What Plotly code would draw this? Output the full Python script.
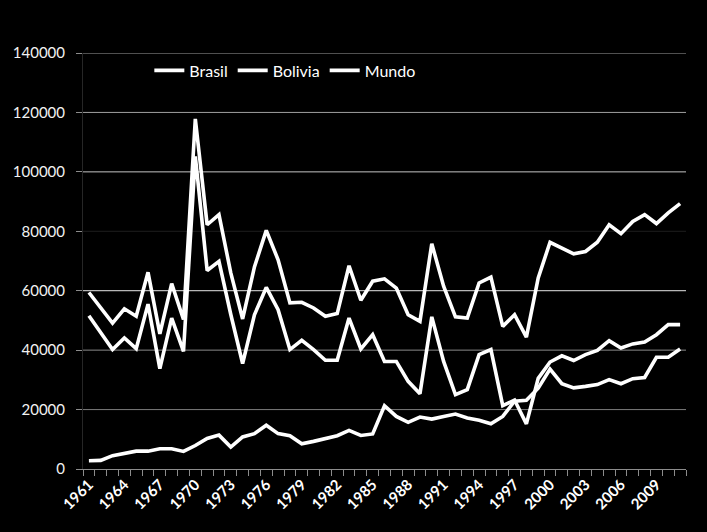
import plotly.graph_objects as go

years = list(range(1961, 2012))

brasil = [59400, 54000, 49100, 53900, 51400, 66200, 45500, 62400, 50300, 117800,
          82200, 85600, 66000, 50500, 68000, 80300, 70400, 55900, 56100, 54200,
          51400, 52300, 68400, 56800, 63200, 64000, 60900, 51900, 49700, 75800,
          61500, 51200, 50800, 62600, 64600, 48000, 51900, 44400, 64300, 76300,
          74400, 72400, 73200, 76300, 82200, 79200, 83300, 85600, 82600, 86200,
          89300]

bolivia = [51600, 46000, 40200, 44100, 40500, 55500, 33800, 50800, 39600, 105200,
           66800, 69900, 52000, 35500, 51900, 61100, 53600, 40200, 43300, 40200,
           36600, 36600, 50800, 40400, 45200, 36200, 36200, 29500, 25300, 51200,
           36200, 25000, 26700, 38500, 40200, 21300, 23200, 15200, 30500, 36000,
           38100, 36500, 38500, 39900, 43200, 40700, 42100, 42700, 45200, 48600,
           48600]

mundo = [2800, 2900, 4500, 5100, 6000, 6000, 6800, 6800, 5900, 7900,
         10300, 11400, 7400, 10800, 11900, 14700, 11900, 11200, 8500, 9300,
         10400, 11200, 13000, 11300, 11800, 21300, 17700, 15700, 17500, 16800,
         17700, 18500, 17200, 16400, 15200, 17700, 22800, 23100, 27200, 33600,
         28700, 27300, 27800, 28400, 30100, 28700, 30400, 30800, 37600, 37600,
         40400]

series_names = ["Brasil", "Bolivia", "Mundo"]
label_years = list(range(1961, 2012, 3))
y_ticks = [0, 20000, 40000, 60000, 80000, 100000, 120000, 140000]
grid_colors = ["#8c8c8c", "#7a7a7a", "#8a8a8a", "#e6e6e6", "#1e1e1e", "#c4c4c4", "#a0a0a0", "#a0a0a0"]

fig = go.Figure()
for name, vals in zip(series_names, [brasil, bolivia, mundo]):
    fig.add_trace(go.Scatter(x=years, y=vals, mode="lines", name=name,
                             line=dict(color="white", width=3.6)))

shapes = []
for v, c in zip(y_ticks[1:], grid_colors[1:]):
    shapes.append(dict(type="line", xref="paper", x0=0, x1=1, yref="y", y0=v, y1=v,
                       line=dict(color=c, width=1), layer="below"))

fig.update_layout(
    width=707, height=532,
    paper_bgcolor="black", plot_bgcolor="black",
    margin=dict(l=83, r=21, t=53, b=63),
    font=dict(family="Lato", color="white", size=16),
    shapes=shapes,
    showlegend=True,
    legend=dict(orientation="h", x=0.11, xanchor="left", y=0.958, yanchor="middle",
                bgcolor="rgba(0,0,0,0)", font=dict(size=16, color="white"),
                itemwidth=30, tracegroupgap=0),
    xaxis=dict(range=[1960.5, 2011.5], tickmode="array", tickvals=label_years,
               ticktext=[str(y) for y in label_years], tickangle=-45,
               ticks="", showgrid=False, zeroline=False, automargin=False,
               showline=True, linecolor="#8c8c8c", linewidth=1,
               tickfont=dict(family="Lato", size=15, color="white", weight="bold"),
               minor=dict(tick0=1960.5, dtick=1, ticks="outside", ticklen=6,
                          tickcolor="#8c8c8c", showgrid=False)),
    yaxis=dict(range=[0, 140000], tickmode="array", tickvals=y_ticks,
               ticktext=[str(v) for v in y_ticks], showgrid=False, zeroline=False,
               ticks="outside", ticklen=6, tickcolor="#8c8c8c", automargin=False,
               showline=True, linecolor="#262626", linewidth=1,
               ticklabelstandoff=8,
               tickfont=dict(family="Lato", size=15, color="#f2f2f2")),
)

fig.write_html("out.html", config={"displayModeBar": False},
               post_script="document.body.style.margin='0';document.body.style.background='black';")
